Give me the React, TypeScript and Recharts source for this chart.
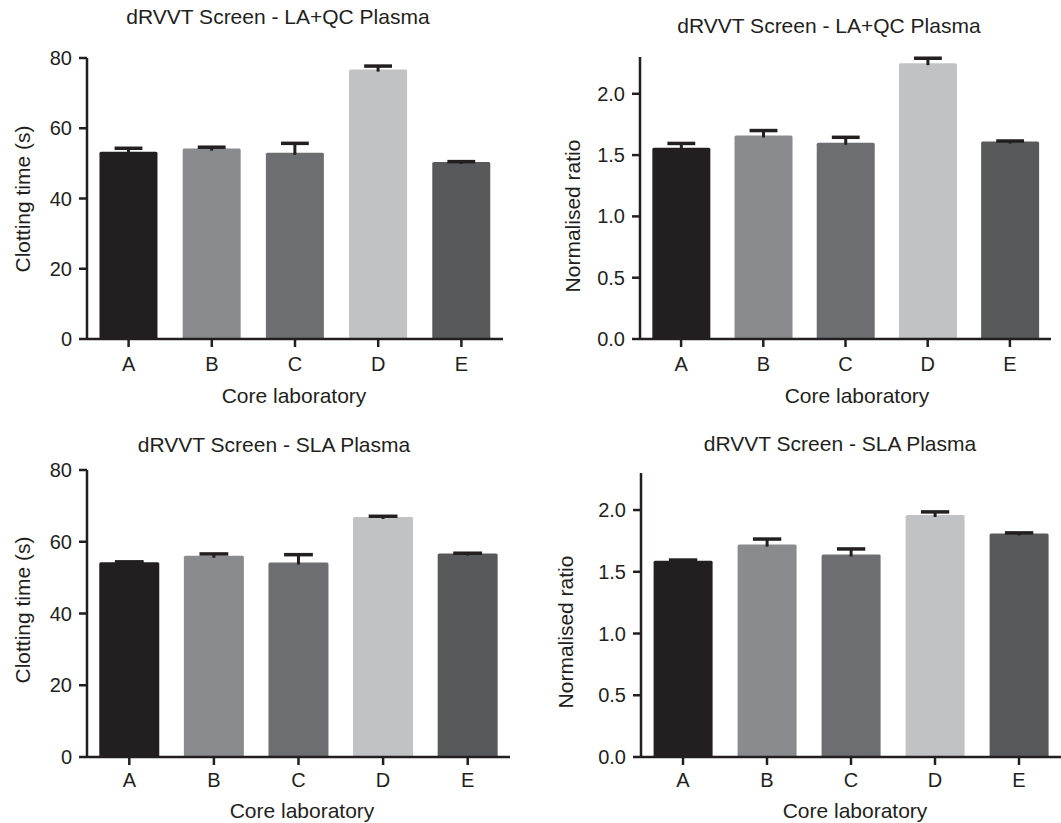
import { BarChart, Bar, XAxis, YAxis, Cell } from 'recharts';

const LABS = ['A', 'B', 'C', 'D', 'E'];
const COLORS = ['#231f20', '#8a8b8e', '#6d6e71', '#c1c2c4', '#58595b'];

// LA+QC plasma
const laqcTime = [53.3, 54.2, 53.0, 76.7, 50.4];
const laqcTimeErr = [1.0, 0.4, 2.7, 1.0, 0.1];
const laqcRatio = [1.56, 1.66, 1.6, 2.25, 1.61];
const laqcRatioErr = [0.035, 0.04, 0.045, 0.04, 0.005];

// SLA plasma
const slaTime = [54.3, 56.1, 54.2, 66.9, 56.7];
const slaTimeErr = [0.1, 0.5, 2.2, 0.2, 0.1];
const slaRatio = [1.59, 1.72, 1.64, 1.96, 1.81];
const slaRatioErr = [0.005, 0.045, 0.045, 0.025, 0.005];

const timeTicks = [0, 20, 40, 60, 80];
const ratioTicks = [0, 0.5, 1, 1.5, 2];

const INK = '#231f20';
const FONT = '"Liberation Sans", Arial, Helvetica, sans-serif';

// bar + upward-only error bar, Prism style
const BarWithError = (props: any) => {
  const { x, y, width, height, fill, payload } = props;
  const v = payload.value;
  const perUnit = v ? height / v : 0;
  const e = payload.err * perUnit;
  const cx = x + width / 2;
  const capHalf = width * 0.24;
  return (
    <g>
      <rect x={x} y={y} width={width} height={height} rx={1.5} fill={fill} />
      <line x1={cx} x2={cx} y1={y - e} y2={y + 2} stroke={INK} strokeWidth={3} />
      <line x1={cx - capHalf} x2={cx + capHalf} y1={y - e} y2={y - e} stroke={INK} strokeWidth={3.5} />
    </g>
  );
};

type Box = {
  left: number; top: number; w: number; h: number;
  mt: number; mr: number; yw: number; xh: number; xm: number;
};

function Panel({ box, values, errors, domain, ticks, fmt, gap }: {
  box: Box; values: number[]; errors: number[]; domain: [number, number];
  ticks: number[]; fmt?: (v: number) => string; gap: string;
}) {
  const rows = LABS.map((lab, i) => ({ lab, value: values[i], err: errors[i] }));
  const axisStyle = { stroke: INK, strokeWidth: 2.5 };
  const tickStyle = { fill: INK, fontSize: 20, fontFamily: FONT };
  return (
    <div style={{ position: 'absolute', left: box.left, top: box.top }}>
      <BarChart
        width={box.w}
        height={box.h}
        data={rows}
        margin={{ top: box.mt, right: box.mr, left: 0, bottom: 0 }}
        barCategoryGap={gap}
      >
        <XAxis
          dataKey="lab"
          height={box.xh}
          interval={0}
          tickSize={8}
          tickMargin={box.xm}
          axisLine={axisStyle}
          tickLine={axisStyle}
          tick={tickStyle}
        />
        <YAxis
          width={box.yw}
          domain={domain}
          ticks={ticks}
          tickFormatter={fmt}
          tickSize={8}
          tickMargin={7}
          axisLine={axisStyle}
          tickLine={axisStyle}
          tick={tickStyle}
        />
        <Bar dataKey="value" isAnimationActive={false} shape={BarWithError}>
          {rows.map((r, i) => (
            <Cell key={r.lab} fill={COLORS[i]} />
          ))}
        </Bar>
      </BarChart>
    </div>
  );
}

const fmt1 = (v: number) => v.toFixed(1);

export default function App() {
  const txt = { fill: INK, fontFamily: FONT, fontSize: 21 };
  return (
    <div style={{ position: 'absolute', left: 0, top: 0, width: 1061, height: 823, background: '#fff' }}>
      <Panel
        box={{ left: 0, top: 0, w: 530, h: 410, mt: 58, mr: 27, yw: 87, xh: 71, xm: 10 }}
        values={laqcTime} errors={laqcTimeErr} domain={[0, 80]} ticks={timeTicks} gap="15%"
      />
      <Panel
        box={{ left: 530, top: 0, w: 531, h: 410, mt: 57, mr: 10, yw: 110, xh: 71, xm: 10 }}
        values={laqcRatio} errors={laqcRatioErr} domain={[0, 2.3]} ticks={ratioTicks} fmt={fmt1} gap="15%"
      />
      <Panel
        box={{ left: 0, top: 410, w: 530, h: 413, mt: 60, mr: 20, yw: 87, xh: 66, xm: 8 }}
        values={slaTime} errors={slaTimeErr} domain={[0, 80]} ticks={timeTicks} gap="14.5%"
      />
      <Panel
        box={{ left: 530, top: 410, w: 531, h: 413, mt: 63, mr: 0, yw: 111, xh: 66, xm: 8 }}
        values={slaRatio} errors={slaRatioErr} domain={[0, 2.3]} ticks={ratioTicks} fmt={fmt1} gap="15%"
      />
      <svg width={1061} height={823} style={{ position: 'absolute', left: 0, top: 0, pointerEvents: 'none' }}>
        <text x={278} y={24} textAnchor="middle" {...txt}>dRVVT Screen - LA+QC Plasma</text>
        <text x={829} y={33} textAnchor="middle" {...txt}>dRVVT Screen - LA+QC Plasma</text>
        <text x={274} y={452} textAnchor="middle" {...txt}>dRVVT Screen - SLA Plasma</text>
        <text x={840} y={451} textAnchor="middle" {...txt}>dRVVT Screen - SLA Plasma</text>

        <text x={294} y={403} textAnchor="middle" {...txt}>Core laboratory</text>
        <text x={857} y={403} textAnchor="middle" {...txt}>Core laboratory</text>
        <text x={302} y={818} textAnchor="middle" {...txt}>Core laboratory</text>
        <text x={855} y={818} textAnchor="middle" {...txt}>Core laboratory</text>

        <text transform="translate(30,199) rotate(-90)" textAnchor="middle" {...txt}>Clotting time (s)</text>
        <text transform="translate(580,216) rotate(-90)" textAnchor="middle" {...txt}>Normalised ratio</text>
        <text transform="translate(30,610) rotate(-90)" textAnchor="middle" {...txt}>Clotting time (s)</text>
        <text transform="translate(573,632) rotate(-90)" textAnchor="middle" {...txt}>Normalised ratio</text>
      </svg>
    </div>
  );
}
